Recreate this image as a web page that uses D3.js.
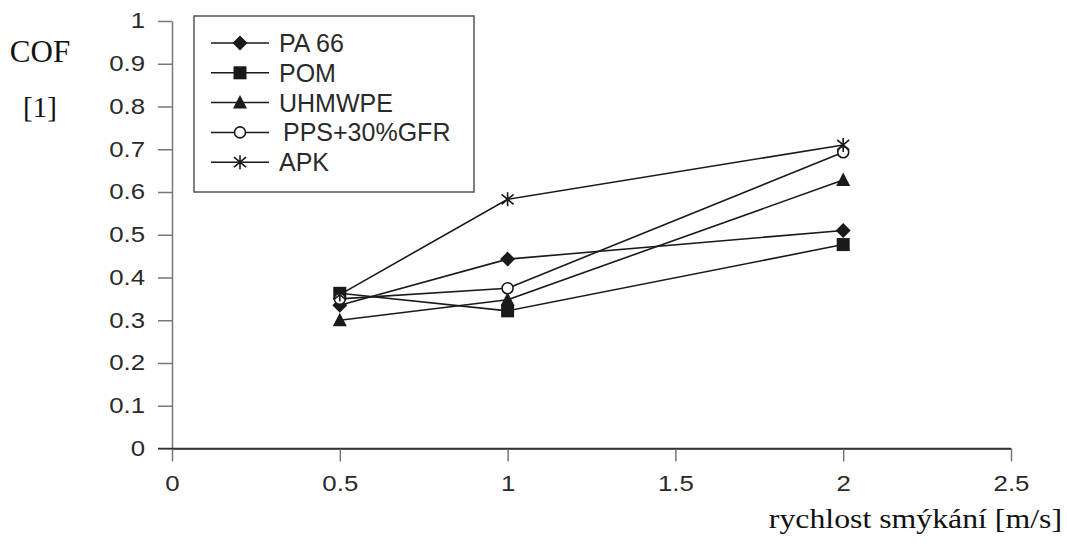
<!DOCTYPE html>
<html>
<head>
<meta charset="utf-8">
<script src="https://cdn.jsdelivr.net/npm/d3@7"></script>
<style>
  body { margin: 0; background: #fff; }
</style>
</head>
<body>
<div id="chart"></div>
<script>
// sliding speed [m/s]
const speeds = [0.5, 1, 2];
// coefficient of friction per material
const pa66 = [0.335, 0.443, 0.51];
const pom = [0.363, 0.322, 0.477];
const uhmwpe = [0.3, 0.348, 0.628];
const pps = [0.35, 0.375, 0.693];
const apk = [0.36, 0.583, 0.71];
const seriesNames = ["PA 66", "POM", "UHMWPE", "PPS+30%GFR", "APK"];
const xTicks = [0, 0.5, 1, 1.5, 2, 2.5];
const yTicks = [0, 0.1, 0.2, 0.3, 0.4, 0.5, 0.6, 0.7, 0.8, 0.9, 1];

const width = 1067, height = 546;
const series = [
  { name: seriesNames[0], values: pa66, marker: "diamond" },
  { name: seriesNames[1], values: pom, marker: "square" },
  { name: seriesNames[2], values: uhmwpe, marker: "triangle" },
  { name: seriesNames[3], values: pps, marker: "circle" },
  { name: seriesNames[4], values: apk, marker: "star" }
];

const svg = d3.select("#chart").append("svg")
    .attr("width", width)
    .attr("height", height);

const x = d3.scaleLinear().domain([0, 2.5]).range([172, 1011]);
const y = d3.scaleLinear().domain([0, 1]).range([448.5, 21]);

const ink = "#1a1a1a";
const axisGray = "#777";
const sans = "Liberation Sans, Arial, sans-serif";
const serif = "Liberation Serif, Times New Roman, serif";

// draws one marker at (0,0) inside group g
function drawMarker(g, kind) {
  if (kind == "diamond") {
    g.append("path").attr("d", "M0,-7.5L7.5,0L0,7.5L-7.5,0Z").attr("fill", ink);
  } else if (kind == "square") {
    g.append("rect").attr("x", -6.5).attr("y", -6.5).attr("width", 13).attr("height", 13).attr("fill", ink);
  } else if (kind == "triangle") {
    g.append("path").attr("d", "M0,-7.5L7,6L-7,6Z").attr("fill", ink);
  } else if (kind == "circle") {
    g.append("circle").attr("r", 5.5).attr("fill", "#fff").attr("stroke", ink).attr("stroke-width", 1.6);
  } else {
    g.append("path").attr("d", "M0,-7L0,7M-6,-5L6,5M-6,5L6,-5")
      .attr("fill", "none").attr("stroke", ink).attr("stroke-width", 1.6);
  }
}

// axes
const xAxis = d3.axisBottom(x).tickValues(xTicks).tickSize(13).tickSizeOuter(0)
  .tickFormat(d3.format("~g"));
const yAxis = d3.axisLeft(y).tickValues(yTicks).tickSize(14).tickSizeOuter(0)
  .tickFormat(d3.format("~g"));

const gx = svg.append("g").attr("transform", "translate(0," + y(0) + ")").call(xAxis);
gx.select(".domain").attr("stroke", "#333").attr("stroke-width", 1.5);
gx.selectAll(".tick line").attr("stroke", axisGray).attr("stroke-width", 1.5);
gx.selectAll(".tick text")
  .attr("y", 27)
  .attr("dy", "0.71em")
  .attr("transform", "scale(1.2,1)")
  .attr("font-family", sans)
  .attr("font-size", 21.5)
  .attr("fill", "#2a2a2a");

const gy = svg.append("g").attr("transform", "translate(" + x(0) + ",0)").call(yAxis);
gy.select(".domain").attr("stroke", axisGray).attr("stroke-width", 1.5);
gy.selectAll(".tick line").attr("stroke", axisGray).attr("stroke-width", 1.5);
gy.selectAll(".tick text")
  .attr("x", 0)
  .attr("transform", "translate(-27,0) scale(1.2,1)")
  .attr("font-family", sans)
  .attr("font-size", 21.5)
  .attr("fill", "#2a2a2a");

// the x axis line runs over the y tick at zero, like the source
svg.append("line")
  .attr("x1", 158).attr("x2", x(2.5))
  .attr("y1", y(0)).attr("y2", y(0))
  .attr("stroke", "#333").attr("stroke-width", 1.5);

// lines
const line = d3.line()
  .x(function(d, i) { return x(speeds[i]); })
  .y(function(d) { return y(d); });

series.forEach(function(s) {
  svg.append("path")
    .datum(s.values)
    .attr("d", line)
    .attr("fill", "none")
    .attr("stroke", ink)
    .attr("stroke-width", 1.6);
});

series.forEach(function(s) {
  s.values.forEach(function(v, i) {
    const g = svg.append("g").attr("transform", "translate(" + x(speeds[i]) + "," + y(v) + ")");
    drawMarker(g, s.marker);
  });
});

// legend
const legend = svg.append("g");
legend.append("rect")
  .attr("x", 194).attr("y", 16)
  .attr("width", 280).attr("height", 176)
  .attr("fill", "#fff")
  .attr("stroke", "#555")
  .attr("stroke-width", 1.5);

series.forEach(function(s, i) {
  const ly = 43 + i * 29.8;
  legend.append("line")
    .attr("x1", 211).attr("x2", 269)
    .attr("y1", ly).attr("y2", ly)
    .attr("stroke", ink).attr("stroke-width", 1.5);
  const g = legend.append("g").attr("transform", "translate(240," + ly + ")");
  drawMarker(g, s.marker);
  legend.append("text")
    .attr("x", s.marker == "circle" ? 283 : 279)
    .attr("y", ly)
    .attr("dy", "0.36em")
    .attr("font-family", sans)
    .attr("font-size", 25)
    .attr("fill", "#2a2a2a")
    .text(s.name);
});

// axis titles
svg.append("text")
  .attr("x", 40).attr("y", 62)
  .attr("text-anchor", "middle")
  .attr("font-family", serif)
  .attr("font-size", 31)
  .attr("fill", "#111")
  .text("COF");
svg.append("text")
  .attr("x", 40).attr("y", 117)
  .attr("text-anchor", "middle")
  .attr("font-family", serif)
  .attr("font-size", 29)
  .attr("fill", "#111")
  .text("[1]");
svg.append("text")
  .attr("text-anchor", "end")
  .attr("transform", "translate(1062,528) scale(1.2,1)")
  .attr("font-family", serif)
  .attr("font-size", 26.5)
  .attr("fill", "#111")
  .text("rychlost smýkání [m/s]");
</script>
</body>
</html>
